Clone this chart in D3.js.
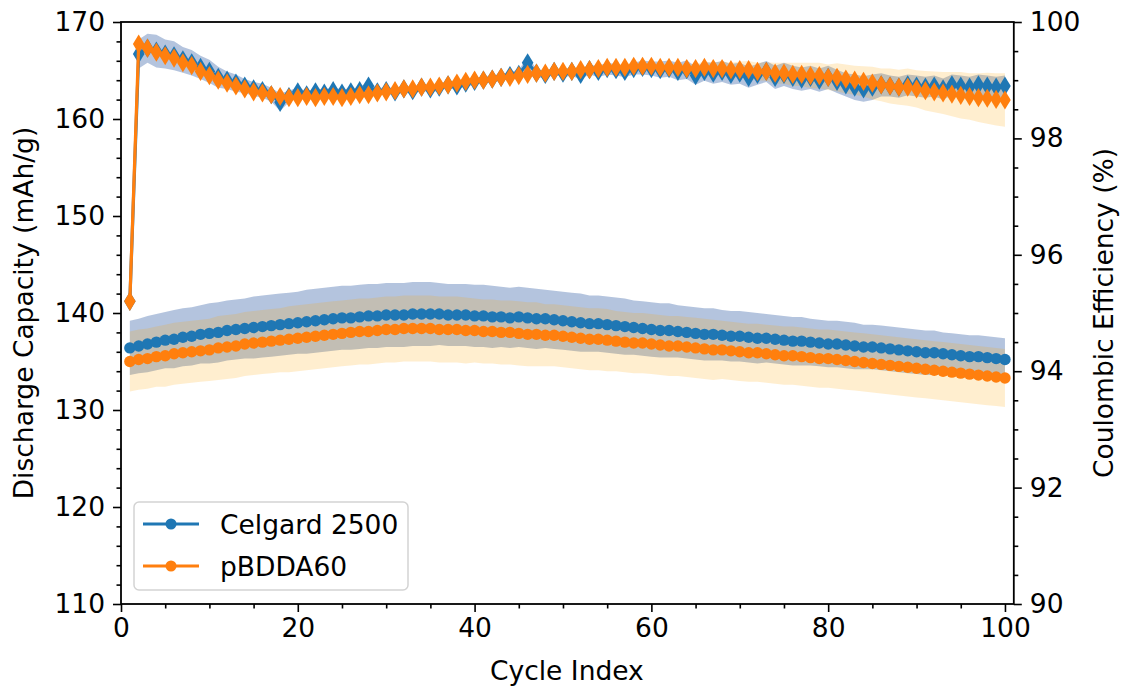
<!DOCTYPE html>
<html>
<head>
<meta charset="utf-8">
<script src="https://cdn.jsdelivr.net/npm/d3@7"></script>
<style>
  html, body { margin: 0; padding: 0; background: #fff; }
  svg { display: block; font-family: "DejaVu Sans", sans-serif; }
</style>
</head>
<body>
<svg id="chart" width="1123" height="687"></svg>
<script>
// ---------------- DATA ----------------
const seriesNames = ["Celgard 2500", "pBDDA60"];

const capCelgard = [
  136.4,136.6,136.8,137.0,137.2,137.3,137.5,137.6,137.8,137.9,
  138.0,138.2,138.3,138.4,138.5,138.6,138.7,138.8,138.9,139.0,
  139.1,139.2,139.3,139.4,139.5,139.5,139.6,139.7,139.7,139.8,
  139.8,139.8,139.9,139.9,139.9,139.9,139.8,139.8,139.8,139.7,
  139.7,139.6,139.6,139.5,139.6,139.5,139.4,139.4,139.3,139.2,
  139.1,139.0,138.9,138.9,138.8,138.7,138.6,138.5,138.4,138.3,
  138.2,138.2,138.1,138.0,137.9,137.8,137.8,137.7,137.6,137.6,
  137.5,137.4,137.4,137.3,137.2,137.1,137.1,137.0,136.9,136.8,
  136.8,136.7,136.6,136.5,136.5,136.4,136.3,136.2,136.1,136.0,
  135.9,135.9,135.8,135.7,135.6,135.5,135.5,135.4,135.3,135.2];
const capCelgardStd = [
  2.8,2.8,2.9,2.9,2.9,3.0,3.0,3.0,3.0,3.1,
  3.1,3.1,3.1,3.1,3.2,3.2,3.2,3.2,3.2,3.2,
  3.3,3.3,3.3,3.3,3.3,3.3,3.3,3.3,3.3,3.3,
  3.3,3.3,3.3,3.3,3.3,3.2,3.2,3.2,3.2,3.2,
  3.2,3.2,3.1,3.1,3.1,3.1,3.1,3.0,3.0,3.0,
  3.0,3.0,2.9,2.9,2.9,2.9,2.9,2.8,2.8,2.8,
  2.8,2.8,2.7,2.7,2.7,2.7,2.7,2.6,2.6,2.6,
  2.6,2.6,2.5,2.5,2.5,2.5,2.5,2.4,2.4,2.4,
  2.4,2.4,2.4,2.3,2.3,2.3,2.3,2.3,2.3,2.3,
  2.3,2.3,2.2,2.2,2.2,2.2,2.2,2.2,2.2,2.2];
const capBDDA = [
  135.0,135.2,135.3,135.5,135.6,135.8,135.9,136.0,136.1,136.2,
  136.4,136.5,136.6,136.8,136.9,137.0,137.1,137.2,137.3,137.4,
  137.5,137.6,137.7,137.8,137.9,138.0,138.1,138.1,138.2,138.3,
  138.3,138.4,138.4,138.4,138.4,138.3,138.3,138.3,138.2,138.2,
  138.1,138.1,138.0,138.0,137.9,137.8,137.8,137.7,137.7,137.6,
  137.5,137.4,137.3,137.3,137.2,137.1,137.0,136.9,136.9,136.8,
  136.7,136.6,136.6,136.5,136.4,136.3,136.2,136.2,136.1,136.0,
  135.9,135.9,135.8,135.7,135.6,135.6,135.5,135.4,135.3,135.3,
  135.2,135.1,135.0,134.9,134.8,134.7,134.6,134.5,134.4,134.3,
  134.2,134.1,134.0,133.9,133.8,133.7,133.6,133.5,133.4,133.3];
const capBDDAStd = [
  3.1,3.1,3.1,3.1,3.2,3.2,3.2,3.2,3.2,3.2,
  3.3,3.3,3.3,3.3,3.3,3.3,3.3,3.3,3.4,3.4,
  3.4,3.4,3.4,3.4,3.4,3.4,3.4,3.4,3.4,3.4,
  3.4,3.4,3.4,3.4,3.4,3.4,3.4,3.4,3.4,3.3,
  3.3,3.3,3.3,3.3,3.3,3.3,3.3,3.2,3.2,3.2,
  3.2,3.2,3.2,3.2,3.2,3.1,3.1,3.1,3.1,3.1,
  3.1,3.1,3.1,3.1,3.1,3.1,3.1,3.0,3.0,3.0,
  3.0,3.0,3.0,3.0,3.0,3.0,3.0,3.0,3.0,3.0,
  3.0,3.0,3.0,3.0,3.0,3.0,3.0,3.0,3.0,3.0,
  3.0,3.0,3.0,3.0,3.0,3.0,3.0,3.0,3.0,3.0];

const ceCelgard = [
  95.20,99.45,99.55,99.50,99.45,99.42,99.35,99.30,99.22,99.15,
  99.05,99.00,98.95,98.90,98.85,98.82,98.75,98.62,98.72,98.80,
  98.75,98.80,98.78,98.82,98.78,98.80,98.82,98.90,98.80,98.82,
  98.80,98.85,98.82,98.88,98.85,98.88,98.92,98.90,98.95,98.98,
  99.00,99.02,99.05,99.08,99.10,99.30,99.12,99.10,99.15,99.12,
  99.15,99.10,99.18,99.15,99.20,99.18,99.15,99.20,99.22,99.20,
  99.18,99.20,99.15,99.18,99.08,99.15,99.12,99.15,99.10,99.12,
  99.05,99.10,99.15,99.05,99.10,99.05,99.02,99.05,99.00,99.05,
  98.98,98.92,98.88,98.85,98.88,98.92,98.90,98.88,98.92,98.90,
  98.88,98.90,98.85,98.92,98.90,98.88,98.92,98.90,98.88,98.90];
const ceCelgardStd = [
  0.05,0.25,0.25,0.28,0.25,0.25,0.22,0.22,0.20,0.20,
  0.18,0.15,0.15,0.12,0.12,0.12,0.12,0.15,0.10,0.08,
  0.06,0.06,0.06,0.06,0.06,0.06,0.06,0.08,0.06,0.06,
  0.06,0.06,0.06,0.06,0.06,0.06,0.06,0.06,0.06,0.06,
  0.06,0.06,0.06,0.06,0.08,0.10,0.08,0.06,0.06,0.06,
  0.08,0.08,0.08,0.10,0.10,0.10,0.10,0.10,0.12,0.12,
  0.14,0.14,0.15,0.16,0.16,0.16,0.18,0.18,0.18,0.18,
  0.18,0.18,0.18,0.20,0.20,0.20,0.20,0.20,0.20,0.20,
  0.20,0.20,0.22,0.22,0.22,0.20,0.18,0.18,0.18,0.18,
  0.18,0.18,0.18,0.18,0.18,0.18,0.18,0.18,0.18,0.18];
const ceBDDA = [
  95.20,99.62,99.55,99.48,99.42,99.38,99.30,99.25,99.15,99.08,
  99.00,98.95,98.90,98.85,98.80,98.78,98.75,98.72,98.70,98.70,
  98.72,98.70,98.72,98.72,98.70,98.72,98.75,98.75,98.78,98.80,
  98.82,98.85,98.85,98.88,98.88,98.90,98.92,98.95,98.98,99.00,
  99.00,99.02,99.05,99.05,99.08,99.10,99.12,99.12,99.15,99.15,
  99.15,99.18,99.18,99.20,99.22,99.22,99.22,99.24,99.24,99.24,
  99.22,99.22,99.22,99.20,99.20,99.22,99.20,99.20,99.18,99.18,
  99.18,99.15,99.15,99.12,99.12,99.10,99.10,99.08,99.08,99.05,
  99.05,99.02,99.00,98.98,98.95,98.92,98.90,98.88,98.88,98.85,
  98.82,98.80,98.78,98.76,98.74,98.72,98.70,98.69,98.67,98.66];
const ceBDDAStd = [
  0.05,0.05,0.05,0.05,0.06,0.06,0.06,0.06,0.06,0.06,
  0.05,0.05,0.05,0.05,0.05,0.05,0.05,0.05,0.05,0.05,
  0.05,0.05,0.05,0.05,0.05,0.05,0.05,0.05,0.05,0.05,
  0.05,0.05,0.05,0.05,0.05,0.05,0.05,0.05,0.05,0.05,
  0.05,0.05,0.05,0.05,0.05,0.06,0.06,0.06,0.06,0.06,
  0.06,0.06,0.06,0.06,0.06,0.06,0.06,0.06,0.06,0.06,
  0.06,0.06,0.07,0.08,0.08,0.10,0.10,0.12,0.12,0.14,
  0.15,0.15,0.16,0.18,0.18,0.20,0.20,0.22,0.22,0.22,
  0.24,0.25,0.25,0.26,0.28,0.28,0.30,0.30,0.32,0.32,
  0.34,0.35,0.36,0.38,0.40,0.40,0.42,0.44,0.45,0.46];

const cycles = d3.range(1, capCelgard.length + 1);

const xTicks = [0, 20, 40, 60, 80, 100];
const capTicks = [110, 120, 130, 140, 150, 160, 170];
const ceTicks = [90, 92, 94, 96, 98, 100];

// ---------------- LAYOUT ----------------
const colors = ["#1f77b4", "#ff7f0e"];
const svg = d3.select("#chart");
const L = 121, R = 1013.8, T = 22, B = 604;
const x = d3.scaleLinear().domain([0, 101]).range([L, R]);
const yL = d3.scaleLinear().domain([110, 170]).range([B, T]);
const yR = d3.scaleLinear().domain([90, 100]).range([B, T]);
const FS = 26.5;

svg.append("defs").append("clipPath").attr("id", "clip")
  .append("rect").attr("x", L).attr("y", T).attr("width", R - L).attr("height", B - T);

const plot = svg.append("g").attr("clip-path", "url(#clip)");

function mk(vals, std) { return cycles.map((c, i) => ({ c, v: vals[i], s: std[i] })); }
const capData = [mk(capCelgard, capCelgardStd), mk(capBDDA, capBDDAStd)];
const ceData = [mk(ceCelgard, ceCelgardStd), mk(ceBDDA, ceBDDAStd)];

// --- capacity axes (ax1): fills below lines
const fillCols = ["#4c72b0", "#ffa500"];
const fillOps = [0.42, 0.19];
capData.forEach((d, k) => {
  plot.append("path").datum(d)
    .attr("d", d3.area().x(p => x(p.c)).y0(p => yL(p.v - p.s)).y1(p => yL(p.v + p.s)))
    .attr("fill", fillCols[k]).attr("fill-opacity", fillOps[k]);
});
capData.forEach((d, k) => {
  plot.append("path").datum(d)
    .attr("d", d3.line().x(p => x(p.c)).y(p => yL(p.v)))
    .attr("fill", "none").attr("stroke", colors[k]).attr("stroke-width", 2.6);
  plot.append("g").selectAll("circle").data(d).join("circle")
    .attr("cx", p => x(p.c)).attr("cy", p => yL(p.v)).attr("r", 5.7)
    .attr("fill", colors[k]);
});

// --- CE axes (ax2 twin): on top
ceData.forEach((d, k) => {
  plot.append("path").datum(d)
    .attr("d", d3.area().x(p => x(p.c)).y0(p => yR(p.v - p.s)).y1(p => yR(p.v + p.s)))
    .attr("fill", fillCols[k]).attr("fill-opacity", fillOps[k]);
});
const dia = (a, b) => `M0,${-a}L${b},0L0,${a}L${-b},0Z`;
ceData.forEach((d, k) => {
  plot.append("path").datum(d)
    .attr("d", d3.line().x(p => x(p.c)).y(p => yR(p.v)))
    .attr("fill", "none").attr("stroke", colors[k]).attr("stroke-width", 3.2);
  plot.append("g").selectAll("path").data(d).join("path")
    .attr("transform", p => `translate(${x(p.c)},${yR(p.v)})`)
    .attr("d", dia(9.6, 5.8)).attr("fill", colors[k]);
});

// ---------------- AXES ----------------
function styleAxis(g) {
  g.select(".domain").remove();
  g.selectAll("line").attr("stroke", "#000").attr("stroke-width", 1.6);
  g.selectAll("text").attr("font-size", FS).attr("fill", "#000")
    .attr("font-family", "DejaVu Sans");
}
const minorX = d3.range(0, 101, 5).filter(v => v % 20 !== 0);
const minorL = d3.range(110, 171, 2).filter(v => v % 10 !== 0);
const minorR = d3.range(90, 100.01, 0.5).filter(v => Math.abs(v / 2 - Math.round(v / 2)) > 1e-6);

svg.append("g").attr("transform", `translate(0,${B})`)
  .call(d3.axisBottom(x).tickValues(xTicks).tickSize(8).tickPadding(6).tickFormat(d3.format("d")))
  .call(styleAxis);
svg.append("g").attr("transform", `translate(0,${B})`)
  .call(d3.axisBottom(x).tickValues(minorX).tickSize(4.5).tickFormat(""))
  .call(styleAxis);

svg.append("g").attr("transform", `translate(${L},0)`)
  .call(d3.axisLeft(yL).tickValues(capTicks).tickSize(8).tickPadding(8).tickFormat(d3.format("d")))
  .call(styleAxis);
svg.append("g").attr("transform", `translate(${L},0)`)
  .call(d3.axisLeft(yL).tickValues(minorL).tickSize(4.5).tickFormat(""))
  .call(styleAxis);

svg.append("g").attr("transform", `translate(${R},0)`)
  .call(d3.axisRight(yR).tickValues(ceTicks).tickSize(8).tickPadding(8).tickFormat(d3.format("d")))
  .call(styleAxis);
svg.append("g").attr("transform", `translate(${R},0)`)
  .call(d3.axisRight(yR).tickValues(minorR).tickSize(4.5).tickFormat(""))
  .call(styleAxis);

// frame
svg.append("rect").attr("x", L).attr("y", T).attr("width", R - L).attr("height", B - T)
  .attr("fill", "none").attr("stroke", "#000").attr("stroke-width", 1.8);

// axis labels
svg.append("text").attr("x", (L + R) / 2 - 0.5).attr("y", 680)
  .attr("text-anchor", "middle").attr("font-size", FS).text("Cycle Index");
svg.append("text").attr("transform", `translate(33,${(T + B) / 2}) rotate(-90)`)
  .attr("text-anchor", "middle").attr("font-size", FS).text("Discharge Capacity (mAh/g)");
svg.append("text").attr("transform", `translate(1113,${(T + B) / 2}) rotate(-90)`)
  .attr("text-anchor", "middle").attr("font-size", FS).text("Coulombic Efficiency (%)");

// legend
const lg = svg.append("g");
lg.append("rect").attr("x", 134).attr("y", 502).attr("width", 274).attr("height", 88)
  .attr("rx", 5).attr("fill", "#fff").attr("fill-opacity", 0.8)
  .attr("stroke", "#d3d3d3").attr("stroke-width", 1.5);
seriesNames.forEach((n, i) => {
  const yy = 524 + i * 42;
  lg.append("line").attr("x1", 143).attr("x2", 199).attr("y1", yy).attr("y2", yy)
    .attr("stroke", colors[i]).attr("stroke-width", 3);
  lg.append("circle").attr("cx", 171).attr("cy", yy).attr("r", 5.5).attr("fill", colors[i]);
  lg.append("text").attr("x", 220).attr("y", yy).attr("dy", "0.36em")
    .attr("font-size", FS).text(n);
});
</script>
</body>
</html>
